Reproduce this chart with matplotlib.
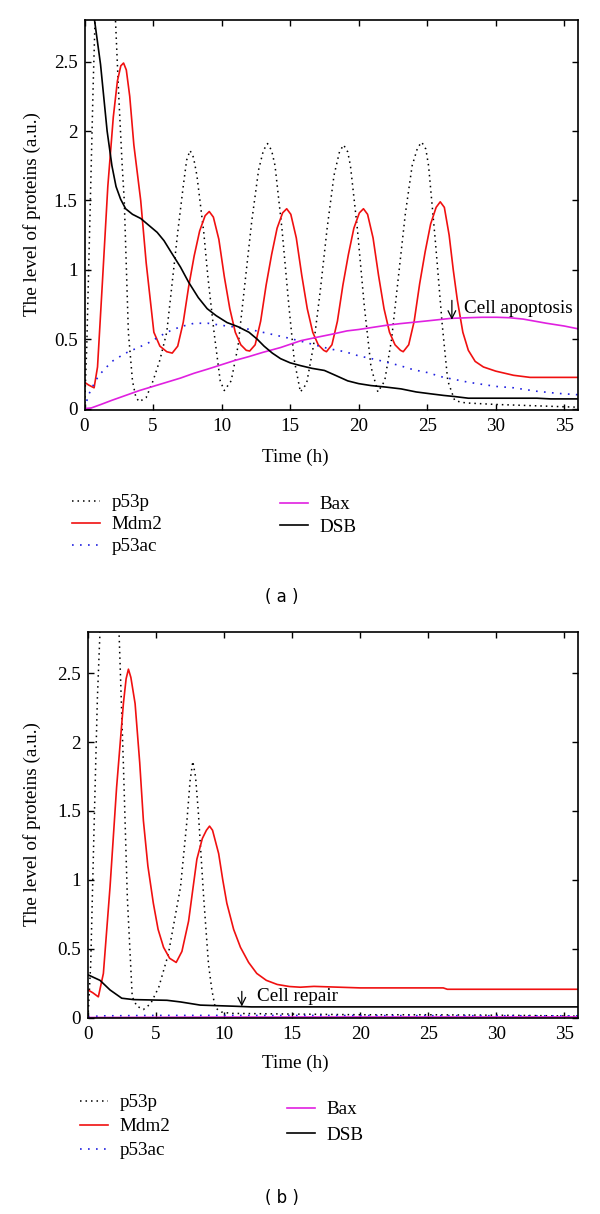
import matplotlib
matplotlib.use('Agg')
import matplotlib.pyplot as plt
from matplotlib.lines import Line2D

plt.rcParams['font.family'] = ['Liberation Serif', 'DejaVu Serif']
plt.rcParams['font.size'] = 13.8

# ---------------- panel (a): cell apoptosis ----------------
a_p53p_t = [0, 0.16, 0.4, 0.64, 0.77, 1.0, 1.5, 2.0, 2.26, 2.5, 2.75, 2.9, 3.2, 3.5, 3.75, 4.0, 4.5, 5.0,
            5.5, 6.0, 6.5, 6.8, 7.2, 7.45, 7.7, 7.95, 8.2, 8.7, 9.0, 9.45, 9.9, 10.2, 10.7, 11.2, 11.7,
            12.2, 12.7, 13.05, 13.35, 13.65, 13.9, 14.4, 14.9, 15.3, 15.75, 16.2, 16.7, 17.2, 17.7, 18.2,
            18.6, 18.9, 19.2, 19.4, 19.9, 20.4, 20.9, 21.4, 21.9, 22.4, 22.9, 23.4, 23.9, 24.3, 24.6, 24.9,
            25.1, 25.6, 26.1, 26.5, 27.0, 27.5, 28, 30, 33, 36]
a_p53p = [0.0, 0.43, 1.39, 2.36, 2.8, 3.2, 3.5, 3.15, 2.8, 2.25, 1.75, 1.5, 0.55, 0.2, 0.08, 0.05, 0.08,
          0.2, 0.35, 0.55, 1.0, 1.27, 1.6, 1.79, 1.86, 1.81, 1.68, 1.27, 0.95, 0.55, 0.2, 0.13, 0.2, 0.45,
          0.9, 1.35, 1.72, 1.86, 1.91, 1.86, 1.75, 1.3, 0.75, 0.35, 0.12, 0.18, 0.45, 0.85, 1.3, 1.68,
          1.85, 1.9, 1.85, 1.75, 1.3, 0.75, 0.3, 0.12, 0.2, 0.5, 0.95, 1.4, 1.75, 1.88, 1.92, 1.87, 1.75,
          1.2, 0.6, 0.2, 0.06, 0.045, 0.04, 0.03, 0.02, 0.01]

a_mdm2_t = [0, 0.3, 0.7, 0.95, 1.3, 1.7, 2.1, 2.4, 2.65, 2.85, 3.05, 3.3, 3.6, 4.1, 4.5, 5.06, 5.5, 6.0,
            6.4, 6.8, 7.2, 7.6, 8.0, 8.4, 8.8, 9.1, 9.4, 9.8, 10.2, 10.6, 11.0, 11.4, 11.8,
            12.05, 12.45, 12.85, 13.25, 13.65, 14.05, 14.45, 14.75, 15.05, 15.45, 15.85, 16.25, 16.65,
            17.05, 17.45, 17.65, 18.05, 18.45, 18.85, 19.25, 19.65, 20.05, 20.35, 20.65, 21.05, 21.45,
            21.85, 22.25, 22.65, 23.05, 23.25, 23.65, 24.05, 24.45, 24.85, 25.25, 25.65, 25.95, 26.25,
            26.6, 26.9, 27.2, 27.6, 28.0, 28.5, 29.1, 30.0, 31.3, 32.5, 36]
a_mdm2 = [0.19, 0.17, 0.15, 0.3, 0.9, 1.6, 2.1, 2.36, 2.47, 2.49, 2.44, 2.25, 1.9, 1.5, 1.05, 0.55, 0.45,
          0.41, 0.4, 0.45, 0.62, 0.88, 1.1, 1.28, 1.39, 1.42, 1.38, 1.22, 0.95, 0.72, 0.55, 0.46, 0.42,
          0.415, 0.46, 0.63, 0.89, 1.11, 1.3, 1.41, 1.44, 1.4, 1.23, 0.96, 0.72, 0.55, 0.46, 0.42,
          0.41, 0.46, 0.63, 0.89, 1.11, 1.3, 1.41, 1.44, 1.4, 1.23, 0.96, 0.72, 0.55, 0.46, 0.42,
          0.41, 0.46, 0.63, 0.9, 1.13, 1.33, 1.45, 1.49, 1.45, 1.25, 1.0, 0.78, 0.55, 0.42, 0.34, 0.3,
          0.27, 0.24, 0.225, 0.225]

a_p53ac_t = [0, 0.3, 0.7, 1.05, 2, 3, 4.6, 6, 7, 8, 9, 10, 11.6, 13, 14.8, 16, 17.9, 19, 20, 21.4, 23, 24,
             25, 26.2, 27, 28, 29, 30, 31.3, 33, 34.5, 36]
a_p53ac = [0.0, 0.1, 0.18, 0.24, 0.34, 0.4, 0.47, 0.55, 0.59, 0.615, 0.615, 0.6, 0.58, 0.55, 0.51, 0.48,
           0.43, 0.41, 0.38, 0.35, 0.31, 0.28, 0.26, 0.225, 0.21, 0.19, 0.175, 0.16, 0.15, 0.125, 0.11, 0.1]

a_bax_t = [0, 0.5, 1.2, 2, 3, 4, 5, 6, 7, 8, 9, 10.9, 12, 13, 14.3, 15.8, 17, 18, 19.15, 20, 21, 22, 23, 24,
           25, 26.7, 28, 29, 30.1, 31, 32, 33.7, 35, 36]
a_bax = [0.0, 0.005, 0.03, 0.06, 0.095, 0.13, 0.16, 0.19, 0.22, 0.255, 0.285, 0.345, 0.375, 0.405, 0.44,
         0.49, 0.515, 0.535, 0.56, 0.57, 0.585, 0.6, 0.612, 0.622, 0.632, 0.65, 0.655, 0.658, 0.658, 0.655,
         0.645, 0.615, 0.595, 0.575]

a_dsb_t = [0, 0.4, 0.73, 1.17, 1.65, 2.0, 2.3, 2.63, 3.0, 3.5, 4.1, 4.7, 5.3, 5.8, 6.3, 7.0, 7.6, 8.3, 8.95,
           9.6, 10.4, 11.2, 12.0, 12.6, 13.1, 13.7, 14.3, 15.0, 15.75, 16.6, 17.5, 18.3, 19.2, 20.0, 20.9,
           22.0, 23.1, 24.2, 25.3, 26.2, 27, 28, 33, 34, 36]
a_dsb = [3.1, 3.0, 2.8, 2.48, 2.0, 1.75, 1.6, 1.51, 1.44, 1.4, 1.37, 1.32, 1.27, 1.21, 1.13, 1.02, 0.91,
         0.8, 0.72, 0.67, 0.62, 0.59, 0.55, 0.5, 0.45, 0.4, 0.36, 0.33, 0.31, 0.29, 0.275, 0.24, 0.2, 0.18,
         0.166, 0.155, 0.142, 0.12, 0.106, 0.095, 0.087, 0.075, 0.075, 0.07, 0.07]

# ---------------- panel (b): cell repair ----------------
b_p53p_t = [0, 0.2, 0.44, 0.69, 0.88, 1.2, 1.6, 2.0, 2.28, 2.6, 2.89, 3.25, 3.6, 3.86, 4.07, 4.6, 5.2, 5.9,
            6.8, 7.27, 7.5, 7.7, 7.9, 8.1, 8.5, 8.85, 9.1, 9.35, 9.8, 10.5, 15, 20, 25, 32, 36]
b_p53p = [0.0, 0.39, 1.36, 2.32, 2.8, 3.3, 3.5, 3.2, 2.8, 1.84, 0.87, 0.15, 0.08, 0.07, 0.058, 0.1, 0.22,
          0.46, 0.95, 1.43, 1.72, 1.86, 1.75, 1.5, 0.87, 0.39, 0.2, 0.07, 0.04, 0.03, 0.025, 0.02, 0.02,
          0.015, 0.01]

b_mdm2_t = [0, 0.35, 0.76, 1.13, 1.62, 2.1, 2.6, 2.8, 2.97, 3.15, 3.46, 3.8, 4.07, 4.4, 4.8, 5.15, 5.55,
            6.0, 6.48, 6.9, 7.39, 7.7, 8.0, 8.4, 8.7, 8.93, 9.15, 9.6, 9.9, 10.2, 10.7, 11.2, 11.8, 12.4,
            13.1, 13.9, 14.8, 15.6, 16.6, 20, 26.1, 26.4, 36]
b_mdm2 = [0.2, 0.18, 0.15, 0.32, 0.95, 1.67, 2.28, 2.46, 2.53, 2.47, 2.28, 1.85, 1.43, 1.1, 0.83, 0.64,
          0.51, 0.43, 0.4, 0.48, 0.7, 0.93, 1.15, 1.3, 1.36, 1.39, 1.36, 1.19, 1.0, 0.83, 0.64, 0.51, 0.4,
          0.32, 0.27, 0.24, 0.225, 0.22, 0.226, 0.215, 0.215, 0.205, 0.205]

b_p53ac_t = [0, 1, 5, 10, 20, 36]
b_p53ac = [0.005, 0.012, 0.015, 0.015, 0.014, 0.012]

b_bax_t = [0, 10, 20, 36]
b_bax = [0.0, 0.003, 0.004, 0.004]

b_dsb_t = [0, 0.88, 1.62, 2.48, 3.34, 5.8, 6.8, 8.25, 10.7, 12, 36]
b_dsb = [0.31, 0.27, 0.2, 0.14, 0.13, 0.125, 0.113, 0.09, 0.082, 0.077, 0.077]

labels = ['p53p', 'Mdm2', 'p53ac', 'Bax', 'DSB']
xticks = [0, 5, 10, 15, 20, 25, 30, 35]
yticks = [0, 0.5, 1, 1.5, 2, 2.5]
ytick_labels = ['0', '0.5', '1', '1.5', '2', '2.5']

styles = [dict(color='black', lw=1.1, ls=(0, (1, 2.6))),
          dict(color='#f01010', lw=1.2, ls='-'),
          dict(color='#2020e0', lw=1.2, ls=(0, (1, 3.8))),
          dict(color='#e020e0', lw=1.2, ls='-'),
          dict(color='black', lw=1.2, ls='-')]

W, H = 600, 1214
fig = plt.figure(figsize=(W / 100, H / 100), dpi=100)


def panel(rect, series, ylim_lo):
    ax = fig.add_axes(rect)
    for (t, v), st in zip(series, styles):
        ax.plot(t, v, **st)
    ax.set_xlim(0, 36)
    ax.set_ylim(ylim_lo, 2.8)
    ax.set_xticks(xticks)
    ax.set_yticks(yticks)
    ax.set_yticklabels(ytick_labels)
    ax.tick_params(direction='in', top=True, right=True, length=4, width=1, labelsize=13.8)
    ax.tick_params(axis='x', pad=6)
    ax.tick_params(axis='y', pad=5)
    for s in ax.spines.values():
        s.set_linewidth(1.2)
    return ax


def legends(left_top, right_top, ls_left, ls_right):
    handles = [Line2D([], [], **st) for st in styles]
    fig.legend(handles[:3], labels[:3], loc='upper left', bbox_to_anchor=left_top, frameon=False,
               borderpad=0, borderaxespad=0, handlelength=1.45, handletextpad=0.62, labelspacing=ls_left)
    fig.legend(handles[3:], labels[3:], loc='upper left', bbox_to_anchor=right_top, frameon=False,
               borderpad=0, borderaxespad=0, handlelength=1.45, handletextpad=0.62, labelspacing=ls_right)


# panel (a)
ax1 = panel([84.5 / W, 1 - 410 / H, 493.5 / W, 390 / H],
            [(a_p53p_t, a_p53p), (a_mdm2_t, a_mdm2), (a_p53ac_t, a_p53ac), (a_bax_t, a_bax), (a_dsb_t, a_dsb)],
            -0.01)
ax1.annotate('', xy=(26.8, 0.64), xytext=(26.8, 0.78),
             arrowprops=dict(arrowstyle='->', lw=0.9, color='black', shrinkA=0, shrinkB=0))
ax1.text(27.65, 0.72, 'Cell apoptosis', va='center', ha='left')
fig.text(295 / W, 1 - 457 / H, 'Time (h)', ha='center', va='center')
fig.text(32 / W, 1 - 214 / H, 'The level of proteins (a.u.)', ha='center', va='center', rotation=90)
legends((72 / W, 1 - 494 / H), (280 / W, 1 - 496 / H), 0.24, 0.27)
fig.text(282 / W, 1 - 597 / H, '( a )', ha='center', va='center', family='DejaVu Sans', fontsize=12)

# panel (b)
ax2 = panel([88 / W, 1 - 1017.5 / H, 490 / W, 385.5 / H],
            [(b_p53p_t, b_p53p), (b_mdm2_t, b_mdm2), (b_p53ac_t, b_p53ac), (b_bax_t, b_bax), (b_dsb_t, b_dsb)],
            0)
ax2.annotate('', xy=(11.3, 0.08), xytext=(11.3, 0.19),
             arrowprops=dict(arrowstyle='->', lw=0.9, color='black', shrinkA=0, shrinkB=0))
ax2.text(12.4, 0.155, 'Cell repair', va='center', ha='left')
fig.text(295 / W, 1 - 1063 / H, 'Time (h)', ha='center', va='center')
fig.text(32 / W, 1 - 824 / H, 'The level of proteins (a.u.)', ha='center', va='center', rotation=90)
legends((80 / W, 1 - 1094 / H), (287 / W, 1 - 1101 / H), 0.34, 0.42)
fig.text(282 / W, 1 - 1198 / H, '( b )', ha='center', va='center', family='DejaVu Sans', fontsize=12)

fig.savefig('out.png', dpi=100)
